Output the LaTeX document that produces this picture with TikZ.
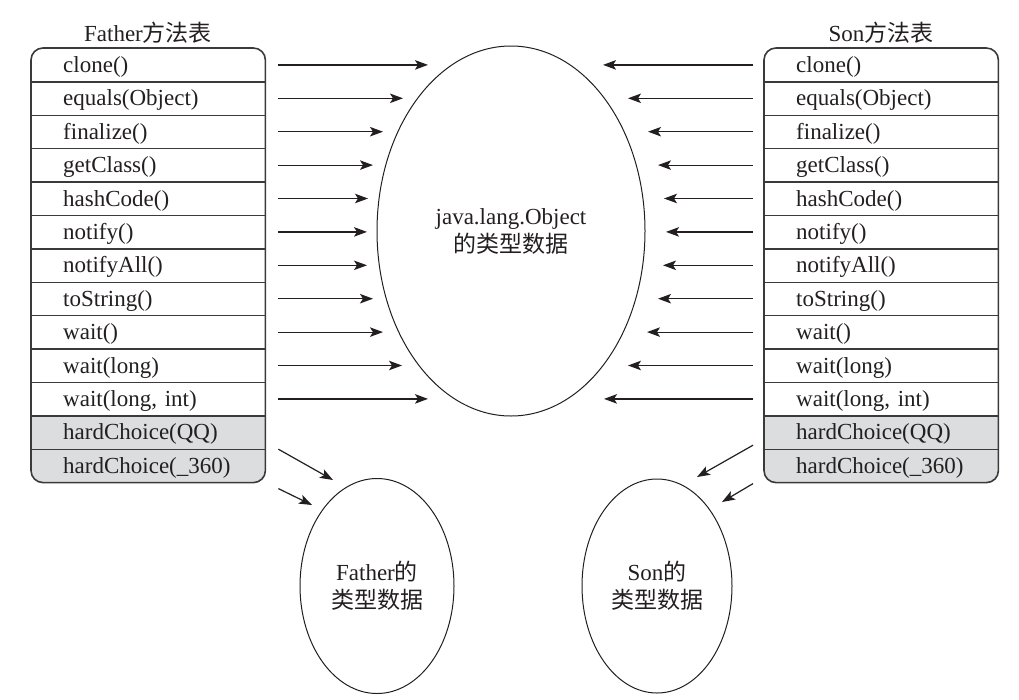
\documentclass[tikz,border=0pt]{standalone}
\usepackage{fontspec}
\setmainfont{Liberation Serif}
\newfontfamily\cjk{Noto Sans CJK SC}
\usetikzlibrary{shapes.geometric,arrows.meta}
\definecolor{ink}{HTML}{231F20}
\definecolor{linec}{HTML}{3A3A3A}
\definecolor{graybg}{HTML}{DCDDDE}
\begin{document}
\begin{tikzpicture}[x=1pt,y=-1pt,
  every node/.style={text=ink, font=\fontsize{23pt}{28pt}\selectfont},
  rowbox/.style={minimum width=234pt, minimum height=33.4pt, text width=170pt,
    text height=18pt, text depth=3pt,
    inner xsep=32pt, inner ysep=0pt, align=left, anchor=north west},
  conn/.style={draw=ink, line width=1.2pt, -{Stealth[length=13pt,width=9.5pt,inset=3pt]}},
  sep/.style={draw=linec, line width=1.4pt},
  frame/.style={draw=linec, line width=1.6pt, rounded corners=12pt},
  blob/.style={draw=ink, line width=1pt, ellipse, inner sep=0pt, align=center}
]
\useasboundingbox (0,0) rectangle (1019,699);

% gray backgrounds
\fill[graybg, rounded corners=12pt] (31,415.2) rectangle (265,482);
\fill[graybg] (31,415.2) rectangle (265,450);
\fill[graybg, rounded corners=12pt] (764,415.2) rectangle (998,482);
\fill[graybg] (764,415.2) rectangle (998,450);

% tables
\foreach \t [count=\i] in {clone(), equals(Object), finalize(), getClass(), hashCode(), notify(), notifyAll(), toString(), wait(), wait(long), {wait(long, int)}, hardChoice(QQ), hardChoice(\_360)} {
  \node[rowbox] (L\i) at (31,{48+33.4*(\i-1)}) {\t};
  \node[rowbox] (R\i) at (764,{48+33.4*(\i-1)}) {\t};
}
\foreach \i in {1,...,12} {
  \draw[sep] (L\i.south west) -- (L\i.south east);
  \draw[sep] (R\i.south west) -- (R\i.south east);
}
\draw[frame] (L1.north west) rectangle (L13.south east);
\draw[frame] (R1.north west) rectangle (R13.south east);

\node (fh) at (148,33) {Father{\cjk 方法表}};
\node (sh) at (881,33) {Son{\cjk 方法表}};

% ellipses
\node[blob, minimum width=268pt, minimum height=370pt] (obj) at (511,231)
  {java.lang.Object\\{\cjk 的类型数据}};
\node[blob, minimum width=154pt, minimum height=215pt] (fd) at (377,586)
  {Father{\cjk 的}\\{\cjk 类型数据}};
\node[blob, minimum width=150pt, minimum height=214pt] (sd) at (657,586)
  {Son{\cjk 的}\\{\cjk 类型数据}};

% arrows to Object
\foreach \e [count=\i] in {428,403,383,373,368,367,367,373,383,402,428}
  \draw[conn] ([xshift=13pt]L\i.east) -- (\e,0 |- L\i.east);
\foreach \e [count=\i] in {603,628,648,658,664,666,663,658,647,628,604}
  \draw[conn] ([xshift=-11pt]R\i.west) -- (\e,0 |- R\i.west);

% arrows to own type data
\coordinate (fa1) at (333,480);
\coordinate (fa2) at (312,505);
\coordinate (sa1) at (697,477);
\coordinate (sa2) at (722,502);
\draw[conn] ([xshift=13pt]L12.south east) -- (fa1);
\draw[conn] ([xshift=13pt,yshift=-6pt]L13.south east) -- (fa2);
\draw[conn] ([xshift=-11pt,yshift=4pt]R12.south west) -- (sa1);
\draw[conn] ([xshift=-11pt,yshift=-1pt]R13.south west) -- (sa2);
\end{tikzpicture}
\end{document}
